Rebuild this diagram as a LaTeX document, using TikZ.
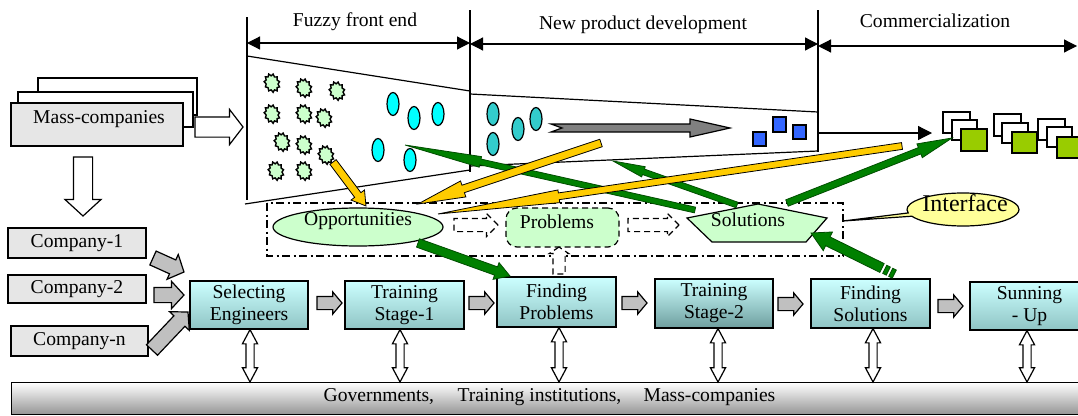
\documentclass[tikz,border=0pt]{standalone}
\usepackage{fontspec}
\setmainfont{Liberation Serif}
\usetikzlibrary{arrows.meta,calc,shapes.geometric,shapes.arrows,shapes.callouts}
\definecolor{lgreen}{HTML}{CCFFCC}
\definecolor{cgray}{HTML}{E6E6E6}
\definecolor{agray}{HTML}{C0C0C0}
\definecolor{cyt}{HTML}{CCFFFF}
\definecolor{cyb}{HTML}{8FC4C4}
\definecolor{cyb2}{HTML}{6E9E9E}
\definecolor{gfill}{HTML}{008000}
\definecolor{gdraw}{HTML}{004D00}
\definecolor{yfill}{HTML}{FFCC00}
\definecolor{ifill}{HTML}{FFFF99}
\definecolor{ovc}{HTML}{00FFFF}
\definecolor{ovt}{HTML}{33CCCC}
\definecolor{sqb}{HTML}{3366FF}
\definecolor{prg}{HTML}{99CC00}
\newcommand\mainfs{\fontsize{19.6}{22}\selectfont}
\newcommand\blk[4][]{\path let \p1=($(#3)-(#2)$), \n1={atan2(\y1,\x1)}, \n2={veclen(\x1,\y1)} in node[blkbase,#1,rotate=\n1,minimum height=\n2,anchor=tail] (#4) at (#2) {};}
\newcommand\dbl[3]{\path let \p1=($(#2)-(#1)$), \n1={atan2(\y1,\x1)}, \n2={veclen(\x1,\y1)} in node[dblarr,rotate=\n1,minimum height=\n2] (#3) at ($(#1)!0.5!(#2)$) {};}
\tikzset{
  blkbase/.style={single arrow, inner xsep=0pt, outer sep=0pt, minimum width=0pt},
  adim/.style n args={3}{inner ysep=#1, single arrow head extend=#2, single arrow tip angle=#3},
  dblarr/.style={double arrow, draw, fill=white, inner xsep=0pt, inner ysep=3.5pt, outer sep=0pt, minimum width=0pt, double arrow head extend=3.5pt, double arrow tip angle=56, line width=1.2pt},
  grayarr/.style={draw, fill=agray, line width=1.2pt},
  hollowarr/.style={draw, fill=white, line width=1.2pt},
  greenarr/.style={draw=gdraw, fill=gfill, line width=0.8pt},
  yelarr/.style={draw=black, fill=yfill, line width=0.8pt},
  dasharr/.style={draw, fill=white, dash pattern=on 6pt off 4pt, line width=1.2pt},
  pbox/.style={draw, top color=cyt, bottom color=cyb, align=center, inner sep=0pt, line width=1.2pt},
  cbox/.style={draw, fill=cgray, inner sep=0pt, line width=1.2pt},
  starn/.style={star, star points=11, star point ratio=1.3, minimum size=19pt, inner sep=0pt, draw, fill=lgreen, line width=1.4pt},
  ovn/.style={ellipse, minimum width=12pt, minimum height=23pt, inner sep=0pt, draw, line width=1.2pt},
  dimarr/.style={line width=1.2pt, {Triangle[length=13pt,width=13pt]}-{Triangle[length=13pt,width=13pt]}},
  txt/.style={inner sep=0pt}
}
\begin{document}
\begin{tikzpicture}[x=1pt,y=-1pt,line width=1.2pt,font=\mainfs]
\useasboundingbox (0,0) rectangle (1078,415);
% bottom bar
\node[draw, top color=white, bottom color=black!42, minimum width=1089pt, minimum height=32pt, anchor=north west, inner sep=0pt] (bar) at (11,382) {};
\node[txt, anchor=base west] (t1) at (323,401.5) {Governments,};
\node[txt, anchor=base west] (t2) at (457,401.5) {Training institutions,};
\node[txt, anchor=base west] (t3) at (643,401.5) {Mass-companies};
% process boxes
\node[pbox, minimum width=118pt, minimum height=48pt] (se) at (249,305) {Selecting\\Engineers};
\node[pbox, minimum width=119pt, minimum height=48pt] (ts1) at (404.5,305) {Training\\Stage-1};
\node[pbox, minimum width=119pt, minimum height=50pt] (fp) at (556.5,302) {Finding\\Problems};
\node[pbox, bottom color=cyb2, minimum width=118pt, minimum height=49pt] (ts2) at (714,303.5) {Training\\Stage-2};
\node[pbox, minimum width=119pt, minimum height=49pt] (fs) at (870.5,303.5) {Finding\\Solutions};
\node[pbox, minimum width=119pt, minimum height=48pt] (su) at (1029.5,306) {Sunning\\- Up};
% vertical double arrows
\coordinate (x1) at (250,0); \coordinate (x2) at (400,0); \coordinate (x3) at (559,0);
\coordinate (x4) at (718,0); \coordinate (x5) at (873,0); \coordinate (x6) at (1027,0);
\dbl{x1 |- se.south}{x1 |- bar.north}{v1}
\dbl{x2 |- ts1.south}{x2 |- bar.north}{v2}
\dbl{x3 |- fp.south}{x3 |- bar.north}{v3}
\dbl{x4 |- ts2.south}{x4 |- bar.north}{v4}
\dbl{x5 |- fs.south}{x5 |- bar.north}{v5}
\dbl{x6 |- su.south}{x6 |- bar.north}{v6}
% gray arrows between boxes
\coordinate (a1s) at (317,303); \coordinate (a1e) at (342,303);
\coordinate (a2s) at (469,303); \coordinate (a2e) at (494,303);
\coordinate (a3s) at (622,303); \coordinate (a3e) at (647,303);
\coordinate (a4s) at (778,304); \coordinate (a4e) at (803,304);
\coordinate (a5s) at (938,306); \coordinate (a5e) at (963,306);
\blk[grayarr,adim={6pt}{4.5pt}{100}]{a1s}{a1e}{ga1}
\blk[grayarr,adim={6pt}{4.5pt}{100}]{a2s}{a2e}{ga2}
\blk[grayarr,adim={6pt}{4.5pt}{100}]{a3s}{a3e}{ga3}
\blk[grayarr,adim={6pt}{4.5pt}{100}]{a4s}{a4e}{ga4}
\blk[grayarr,adim={6pt}{4.5pt}{100}]{a5s}{a5e}{ga5}
% companies
\node[cbox, minimum width=138pt, minimum height=30pt] (c1) at (77,243) {Company-1};
\node[cbox, minimum width=138pt, minimum height=28pt] (c2) at (77,289) {Company-2};
\node[cbox, minimum width=137pt, minimum height=30pt] (cn) at (79.5,341) {Company-n};
\coordinate (c1s) at (153,258); \coordinate (c1e) at (184,272);
\coordinate (c2s) at (154,295); \coordinate (c2e) at (184,295);
\coordinate (c3s) at (152,350); \coordinate (c3e) at (188,312);
\blk[grayarr,adim={7pt}{6pt}{95}]{c1s}{c1e}{ca1}
\blk[grayarr,adim={7pt}{6pt}{95}]{c2s}{c2e}{ca2}
\blk[grayarr,adim={7pt}{6pt}{95}]{c3s}{c3e}{ca3}
% mass companies
\draw[fill=white] (38,78) rectangle (197,115);
\draw[fill=white] (18,92) rectangle (193,127);
\node[cbox, minimum width=172pt, minimum height=43pt] (mc) at (97,124.5) {};
\node[txt] (mct) at (99,119.5) {Mass-companies};
\coordinate (mrs) at (195,127); \coordinate (mre) at (243,127);
\coordinate (mds) at (83,157); \coordinate (mde) at (83,216);
\blk[hollowarr,adim={9.5pt}{7.5pt}{105}]{mrs}{mre}{mra}
\blk[hollowarr,adim={9pt}{8.5pt}{95}]{mds}{mde}{mda}
% top phases
\draw (247,17) -- (247,200);
\draw (470,10) -- (470,172);
\draw (818,10) -- (818,152);
\draw (247,56) -- (470,91);
\draw (245,204) -- (470,170);
\draw (470,94) -- (818,112);
\draw (470,166) -- (818,151);
\coordinate (p1a) at (247,43); \coordinate (p1b) at (470,43);
\coordinate (p2a) at (470,44); \coordinate (p2b) at (818,44);
\coordinate (p3a) at (818,46); \coordinate (p3b) at (1077,46);
\draw[dimarr] (p1a) -- (p1b);
\draw[dimarr] (p2a) -- (p2b);
\draw[dimarr] (p3a) -- (p3b);
\node[txt] (l1) at (355,22) {Fuzzy front end};
\node[txt] (l2) at (643,25) {New product development};
\node[txt] (l3) at (935,21) {Commercialization};
% stars
\foreach \p [count=\i] in {{272,83},{304,88},{337,91},{272,114},{304,114},{324,118},{282,142},{304,145},{326,155},{276,171},{304,171}}
  \node[starn, rotate=20, xscale=0.8] (s\i) at (\p) {};
% ovals
\foreach \p [count=\i] in {{393,104},{414,118},{438,114},{378,150},{410,160}}
  \node[ovn, fill=ovc] (oc\i) at (\p) {};
\foreach \p [count=\i] in {{493,114},{518,129},{536,119},{493,144}}
  \node[ovn, fill=ovt] (ot\i) at (\p) {};
% gray NPD arrow
\draw[fill=gray] (551,124) -- (690,124) -- (690,119) -- (730,128) -- (690,137) -- (690,132) -- (551,132) -- (562,128) -- cycle;
% blue squares
\draw[fill=sqb] (753,132) rectangle (766,146);
\draw[fill=sqb] (773,117) rectangle (786,132);
\draw[fill=sqb] (793,125) rectangle (806,139);
% arrow to products
\coordinate (ka) at (818,133); \coordinate (kb) at (932,133);
\draw[-{Triangle[length=14pt,width=14pt]}] (ka) -- (kb);
% products
\draw[fill=white] (943,112) rectangle (970,133);
\draw[fill=white] (952,120) rectangle (977,140);
\draw[fill=prg] (961,129) rectangle (987,151);
\draw[fill=white] (994,114) rectangle (1021,136);
\draw[fill=white] (1002,123) rectangle (1028,143);
\draw[fill=prg] (1012,132) rectangle (1037,153);
\draw[fill=white] (1038,119) rectangle (1065,140);
\draw[fill=white] (1047,127) rectangle (1072,147);
\draw[fill=prg] (1057,137) rectangle (1082,158);
% interface area
\draw[dash pattern=on 8pt off 3.5pt on 2pt off 3.5pt, line width=1.3pt] (267,203) rectangle (843,256);
\node[ellipse, draw, fill=lgreen, minimum width=170pt, minimum height=38pt, inner sep=0pt] (opp) at (358,227) {};
\node[txt] (oppt) at (358,221) {Opportunities};
\node[draw, dash pattern=on 6pt off 4pt, rounded corners=11pt, fill=lgreen, minimum width=113pt, minimum height=39pt, inner sep=0pt] (prob) at (562.5,227.5) {};
\node[txt] (probt) at (557,222) {Problems};
\draw[fill=lgreen] (687,218) -- (758,204) -- (827,218) -- (806,242) -- (712,242) -- cycle;
\node[txt] (solt) at (748,220) {Solutions};
\coordinate (d1s) at (454,225); \coordinate (d1e) at (498,225);
\coordinate (d2s) at (628,225); \coordinate (d2e) at (679,225);
\coordinate (d3s) at (559,274); \coordinate (d3e) at (559,247);
\blk[dasharr,adim={6pt}{5pt}{90}]{d1s}{d1e}{da1}
\blk[dasharr,adim={6pt}{5pt}{90}]{d2s}{d2e}{da2}
\blk[dasharr,adim={5.5pt}{3.5pt}{112}]{d3s}{d3e}{da3}
% callout
\coordinate (ipt) at (843,221);
\node[ellipse callout, draw, fill=ifill, minimum width=112pt, minimum height=33pt, inner sep=0pt, callout absolute pointer=(ipt), callout pointer arc=12] (ical) at (963,209.5) {};
\node[txt] (ict) at (965,203) {\fontsize{24}{26}\selectfont Interface};
% green arrows
\coordinate (g1s) at (418,243); \coordinate (g1e) at (510,276);
\coordinate (g2s) at (882,268); \coordinate (g2e) at (811,233);
\coordinate (g3s) at (787,203); \coordinate (g3e) at (952,138);
\coordinate (g4s) at (695,210); \coordinate (g4e) at (405,145);
\coordinate (g5s) at (737,205); \coordinate (g5e) at (613,161);
\blk[greenarr,adim={2.5pt}{2.5pt}{8}]{g4s}{g4e}{ga4}
\blk[greenarr,adim={2.5pt}{2.5pt}{19}]{g5s}{g5e}{ga5}
\blk[greenarr,adim={3pt}{4pt}{24}]{g3s}{g3e}{ga3}
\blk[greenarr,adim={4pt}{4.5pt}{62}]{g1s}{g1e}{ga1}
\blk[greenarr,adim={4.5pt}{5.5pt}{58}]{g2s}{g2e}{ga2}
\node[greenarr, rotate=-26.2, minimum width=4pt, minimum height=9pt, inner sep=0pt] (gs1) at (886.5,270.2) {};
\node[greenarr, rotate=-26.2, minimum width=4pt, minimum height=9pt, inner sep=0pt] (gs2) at (892.5,273.2) {};
% yellow arrows
\coordinate (y1s) at (333,162); \coordinate (y1e) at (366,206);
\coordinate (y2s) at (601,143); \coordinate (y2e) at (418,204);
\coordinate (y3s) at (902,146); \coordinate (y3e) at (438,214);
\blk[yelarr,adim={3.5pt}{4.5pt}{63}]{y1s}{y1e}{ya1}
\blk[yelarr,adim={3.5pt}{4.5pt}{20}]{y2s}{y2e}{ya2}
\blk[yelarr,adim={3pt}{3pt}{6}]{y3s}{y3e}{ya3}
\end{tikzpicture}
\end{document}
